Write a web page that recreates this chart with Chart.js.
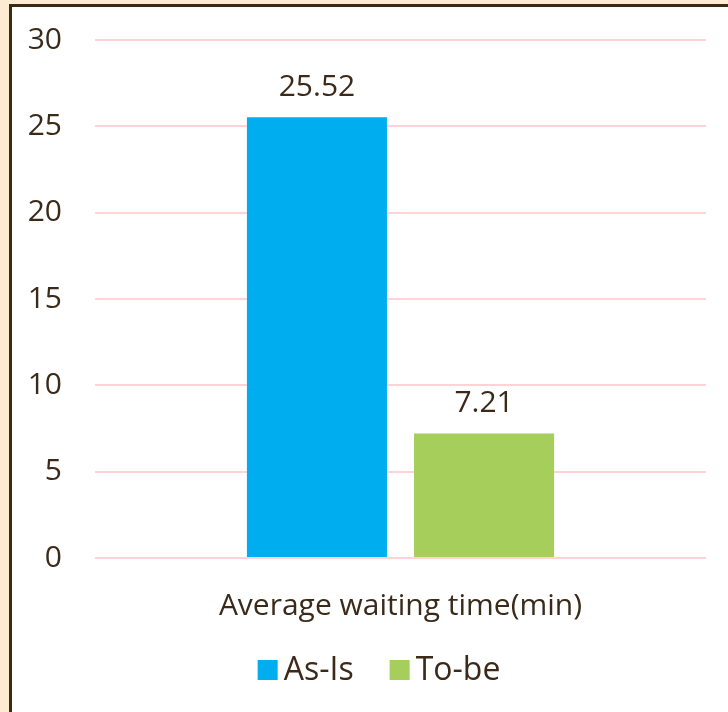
<!DOCTYPE html>
<html>
<head>
<meta charset="utf-8">
<script src="https://cdn.jsdelivr.net/npm/chart.js@4"></script>
<style>
  html, body { margin: 0; padding: 0; width: 728px; height: 712px; overflow: hidden; background: #fdebd2; }
  #panel { position: absolute; left: 9px; top: 4px; width: 800px; height: 800px; background: #ffffff; border: 3px solid #3b2a14; box-sizing: border-box; }
  #wrap { position: absolute; left: 0; top: 0; width: 728px; height: 712px; }
</style>
</head>
<body>
<div id="panel"></div>
<div id="wrap"><canvas id="c" width="728" height="712"></canvas></div>
<script>
const categories = ["Average waiting time(min)"];
const seriesNames = ["As-Is", "To-be"];
const asIsValues = [25.52];
const toBeValues = [7.21];
const yTicks = [0, 5, 10, 15, 20, 25, 30];

const textColor = '#3b2a1a';
const fontFamily = '"Open Sans", "Noto Sans", sans-serif';

const valueLabels = {
  id: 'valueLabels',
  afterDatasetsDraw(chart) {
    const ctx = chart.ctx;
    ctx.save();
    ctx.fillStyle = textColor;
    ctx.font = '30px ' + fontFamily;
    ctx.textAlign = 'center';
    ctx.textBaseline = 'middle';
    chart.data.datasets.forEach((ds, i) => {
      const meta = chart.getDatasetMeta(i);
      meta.data.forEach((bar, j) => {
        ctx.fillText(ds.data[j].toFixed(2), bar.x, bar.y - 30);
      });
    });
    ctx.restore();
  }
};

// Legend drawn from the datasets (names + colours), Excel-like spacing
const customLegend = {
  id: 'customLegend',
  afterDraw(chart) {
    const ctx = chart.ctx;
    ctx.save();
    ctx.font = '32px ' + fontFamily;
    ctx.textBaseline = 'middle';
    ctx.textAlign = 'left';
    const box = 20, gapText = 6, gapItem = 36, cy = 670;
    const items = chart.data.datasets.map(ds => ({ label: ds.label, color: ds.backgroundColor, w: ctx.measureText(ds.label).width }));
    let total = 0;
    items.forEach((it, i) => { total += box + gapText + it.w + (i < items.length - 1 ? gapItem : 0); });
    let x = 379 - total / 2;
    items.forEach(it => {
      ctx.fillStyle = it.color;
      ctx.fillRect(x, cy - box / 2, box, box);
      x += box + gapText;
      ctx.fillStyle = textColor;
      ctx.fillText(it.label, x, cy + 1);
      x += it.w + gapItem;
    });
    ctx.restore();
  }
};

new Chart(document.getElementById('c'), {
  type: 'bar',
  data: {
    labels: categories,
    datasets: [
      { label: seriesNames[0], data: asIsValues, backgroundColor: '#00aeef', categoryPercentage: 0.547, barPercentage: 0.838 },
      { label: seriesNames[1], data: toBeValues, backgroundColor: '#a6ce5a', categoryPercentage: 0.547, barPercentage: 0.838 }
    ]
  },
  options: {
    responsive: false,
    animation: false,
    devicePixelRatio: 1,
    layout: { padding: { left: 0, right: 22, top: 40, bottom: 83 } },
    plugins: {
      legend: { display: false },
      tooltip: { enabled: false }
    },
    scales: {
      x: {
        grid: { display: false, drawTicks: false },
        border: { display: false },
        ticks: { color: textColor, font: { size: 30, family: fontFamily }, padding: 30 },
        afterFit(scale) { scale.height = 71; }
      },
      y: {
        min: 0, max: 30,
        afterBuildTicks(scale) { scale.ticks = yTicks.map(v => ({ value: v })); },
        grid: { color: '#ffd3d6', lineWidth: 2, drawTicks: true, tickLength: 28, tickColor: 'rgba(0,0,0,0)' },
        border: { display: false },
        ticks: { color: textColor, font: { size: 30, family: fontFamily }, padding: 5 },
        afterFit(scale) { scale.width = 95; }
      }
    }
  },
  plugins: [valueLabels, customLegend]
});
</script>
</body>
</html>
